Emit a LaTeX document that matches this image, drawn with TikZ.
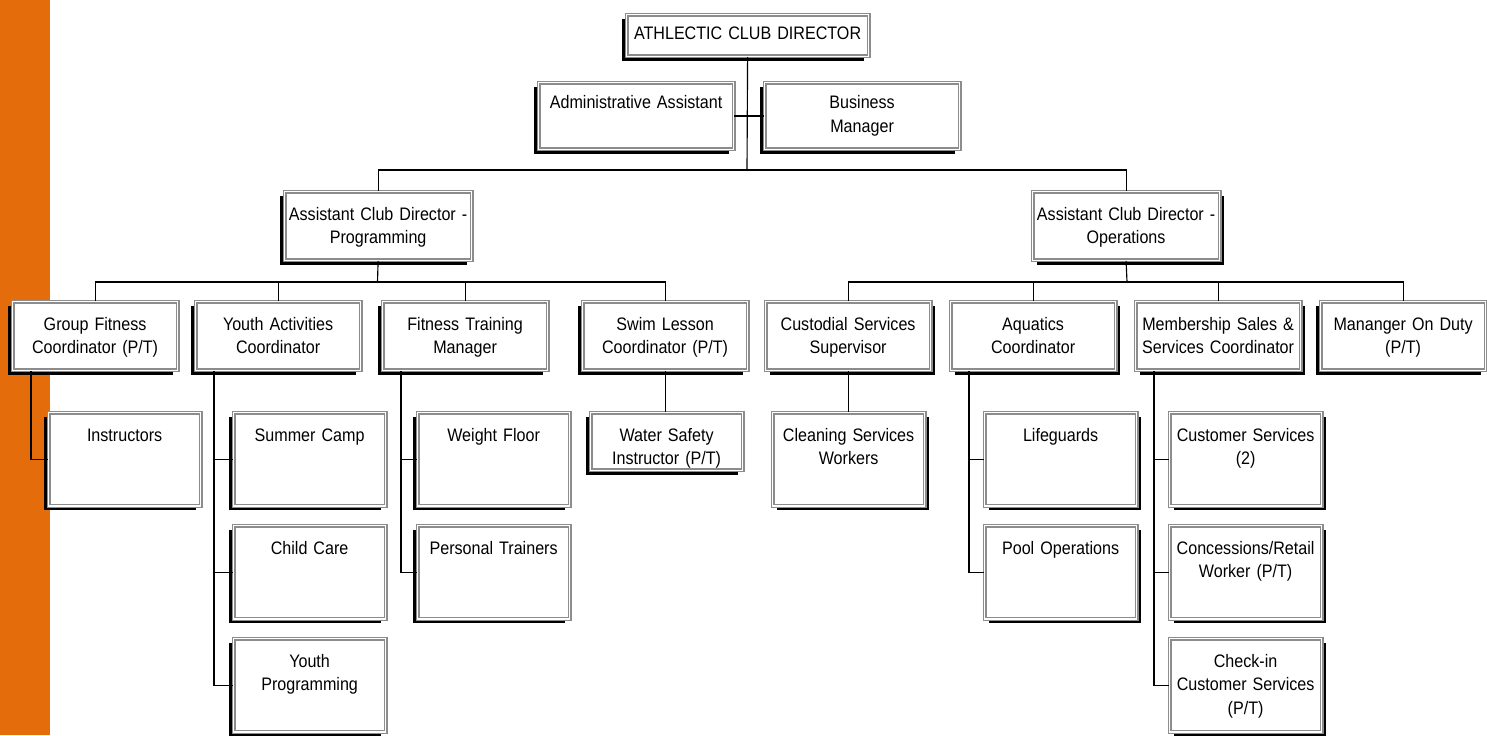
\documentclass[tikz,border=0pt]{standalone}
\usepackage{fontspec}
\usepackage{xcolor}
\setmainfont{Liberation Sans}[FakeStretch=0.89, WordSpace=0.8]
\usetikzlibrary{shadows}

\definecolor{barorange}{HTML}{E46C0A}

\tikzset{
	unit/.style={draw=black!45, line width=0.7pt, double=white, double distance=0.9pt, fill=white,
		inner sep=0pt, align=center, anchor=north west, font=\fontsize{10.3}{13.6}\selectfont,
		text height=16.2pt},
	shl/.style={drop shadow={shadow xshift=-2.4pt, shadow yshift=-2.4pt, opacity=1, fill=black}},
	shr/.style={drop shadow={shadow xshift=2.4pt, shadow yshift=-2.4pt, opacity=1, fill=black}},
	head/.style={unit, text width=4.84cm, text height=13.9pt, text depth=9.9pt},
	staff/.style={unit, text width=3.90cm, text height=15pt, text depth=23pt},
	deputy/.style={unit, text width=3.74cm, text depth=22.9pt},
	lead/.style={unit, text width=3.30cm, text depth=22.9pt},
	team/.style={unit, text width=3.04cm, text depth=37.1pt},
	link/.style={draw=black, line width=0.65pt}
}

\begin{document}
\begin{tikzpicture}[x=0.02cm, y=-0.02cm]
	\useasboundingbox (0,0) rectangle (1487,735);
	\fill[barorange] (0,0) rectangle (50,735);

	% top of the club
	\node[head, shl] (dir) at (626,14) {ATHLECTIC CLUB DIRECTOR};
	\node[staff, shl] (admin) at (538,82) {Administrative Assistant};
	\node[staff, shl] (busmgr) at (764,82) {Business\\Manager};
	\node[deputy, shl] (acdp) at (284,191) {Assistant Club Director -\\Programming};
	\node[deputy, shr] (acdo) at (1032,191) {Assistant Club Director -\\Operations};

	% programming side
	\node[lead, shl] (gf) at (12,301) {Group Fitness\\Coordinator (P/T)};
	\node[lead, shl] (ya) at (195,301) {Youth Activities\\Coordinator};
	\node[lead, shl] (ft) at (382,301) {Fitness Training\\Manager};
	\node[lead, shl] (sl) at (582,301) {Swim Lesson\\Coordinator (P/T)};

	\node[team, shl] (instr) at (48,412) {Instructors};
	\node[team, shl] (camp) at (233,412) {Summer Camp};
	\node[team, shl] (care) at (233,525) {Child Care};
	\node[team, shl] (yprog) at (233,638) {Youth\\Programming};
	\node[team, shl] (wfloor) at (417,412) {Weight Floor};
	\node[team, shl] (ptrain) at (417,525) {Personal Trainers};
	\node[team, shl, text depth=16.7pt] (wsi) at (590,412) {Water Safety\\Instructor (P/T)};

	% operations side
	\node[lead, shr] (cs) at (765,301) {Custodial Services\\Supervisor};
	\node[lead, shr] (aq) at (950,301) {Aquatics\\Coordinator};
	\node[lead, shr] (ms) at (1135,301) {Membership Sales \&\\Services Coordinator};
	\node[lead, shl] (mod) at (1320,301) {Mananger On Duty\\(P/T)};

	\node[team, shr] (clean) at (772,412) {Cleaning Services\\Workers};
	\node[team, shr] (guards) at (984,412) {Lifeguards};
	\node[team, shr] (pool) at (984,525) {Pool Operations};
	\node[team, shr] (cust) at (1169,412) {Customer Services\\(2)};
	\node[team, shr] (retail) at (1169,525) {Concessions/Retail\\Worker (P/T)};
	\node[team, shr] (checkin) at (1169,638) {Check-in\\Customer Services\\(P/T)};

	\coordinate (topbus) at (747,170);
	\coordinate (pbus) at (377.5,282);
	\coordinate (obus) at (1127,282);

	\draw[link] (dir.south) -- (topbus);
	\draw[link] (admin.east) -- (busmgr.west);
	\draw[link] (acdp.north) |- (topbus) -| (acdo.north);

	\draw[link] (acdp.south) -- (pbus);
	\draw[link] (gf.north) |- (pbus) -| (sl.north);
	\draw[link] (ya.north) -- (ya.north |- pbus);
	\draw[link] (ft.north) -- (ft.north |- pbus);

	\draw[link] (acdo.south) -- (obus);
	\draw[link] (cs.north) |- (obus) -| (mod.north);
	\draw[link] (aq.north) -- (aq.north |- obus);
	\draw[link] (ms.north) -- (ms.north |- obus);

	\draw[link] ([xshift=0.38cm]gf.south west) |- (instr.west);
	\draw[link] ([xshift=0.38cm]ya.south west) |- (yprog.west);
	\draw[link] ([xshift=0.38cm]ya.south west) |- (camp.west);
	\draw[link] ([xshift=0.38cm]ya.south west) |- (care.west);
	\draw[link] ([xshift=0.38cm]ft.south west) |- (ptrain.west);
	\draw[link] ([xshift=0.38cm]ft.south west) |- (wfloor.west);
	\draw[link] (sl.south) -- (sl.south |- wsi.north);

	\draw[link] (cs.south) -- (cs.south |- clean.north);
	\draw[link] ([xshift=0.38cm]aq.south west) |- (pool.west);
	\draw[link] ([xshift=0.38cm]aq.south west) |- (guards.west);
	\draw[link] ([xshift=0.38cm]ms.south west) |- (checkin.west);
	\draw[link] ([xshift=0.38cm]ms.south west) |- (cust.west);
	\draw[link] ([xshift=0.38cm]ms.south west) |- (retail.west);
\end{tikzpicture}
\end{document}
